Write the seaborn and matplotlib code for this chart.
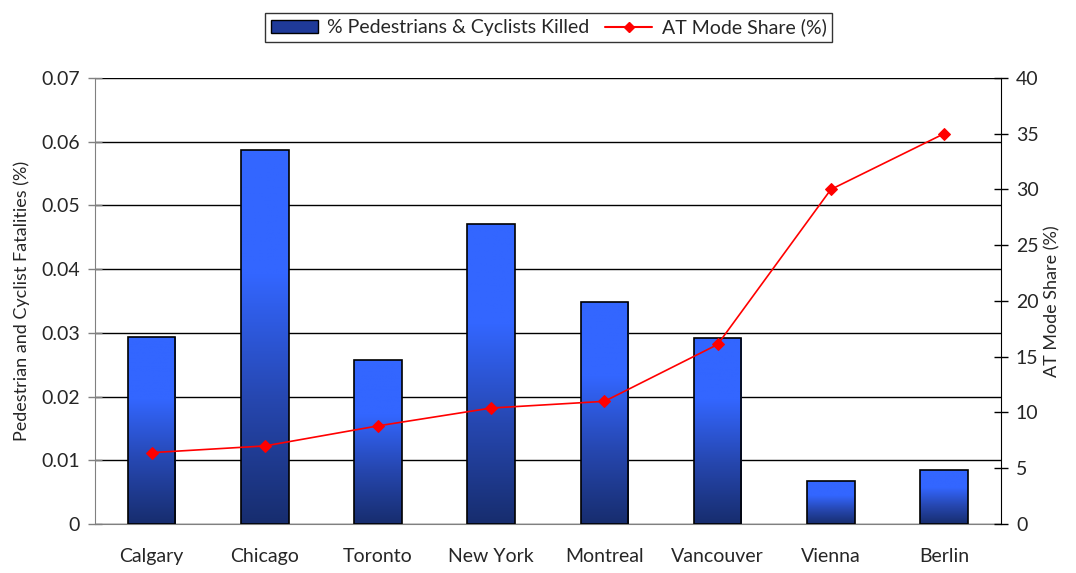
import numpy as np
import pandas as pd
import matplotlib
matplotlib.use('Agg')
import matplotlib.pyplot as plt
import seaborn as sns
from matplotlib.colors import LinearSegmentedColormap
from matplotlib.lines import Line2D
from matplotlib.patches import Patch

cities = ['Calgary', 'Chicago', 'Toronto', 'New York', 'Montreal', 'Vancouver', 'Vienna', 'Berlin']
killed = [0.0294, 0.0587, 0.0257, 0.0471, 0.0348, 0.0292, 0.0067, 0.0085]
mode_share = [6.4, 7.0, 8.8, 10.4, 11.0, 16.1, 30.0, 35.0]

sns.set_style('white')
plt.rcParams['font.family'] = ['Lato', 'DejaVu Sans']

df = pd.DataFrame({'city': cities, 'killed': killed, 'share': mode_share})

fig, ax = plt.subplots(figsize=(10.76, 5.73), dpi=100)
fig.subplots_adjust(left=0.0883, right=0.930, top=0.864, bottom=0.0855)

sns.barplot(data=df, x='city', y='killed', ax=ax, width=0.42, color='#3366ff',
            edgecolor='black', linewidth=1.2, zorder=3)

# gradient fill for every bar
cmap = LinearSegmentedColormap.from_list('bar', ['#172d6e', '#2647b0', '#3366ff', '#3366ff'])
grad = np.linspace(0, 1, 256).reshape(-1, 1)
for p in ax.patches:
    x0, y0 = p.get_x(), p.get_y()
    w, h = p.get_width(), p.get_height()
    im = ax.imshow(grad, cmap=cmap, origin='lower', aspect='auto',
                   extent=(x0, x0 + w, y0, y0 + h), zorder=3.5)
    im.set_clip_path(p)
    p.set_facecolor('none')
    p.set_zorder(4)
ax.set_aspect('auto')
ax.set_xlim(-0.5, len(cities) - 0.5)
ax.set_ylim(0, 0.07)

ax.set_yticks(np.arange(0, 0.071, 0.01))
ax.set_yticklabels(['0'] + [f'{v:.2f}' for v in np.arange(0.01, 0.071, 0.01)], fontsize=14)
ax.yaxis.grid(True, color='black', linewidth=1.0, zorder=0)
ax.set_axisbelow(True)
ax.tick_params(axis='y', direction='inout', length=10, width=1, color='#808080', pad=6)

ax.set_xticks(range(len(cities)))
ax.set_xticklabels(cities, fontsize=14)
ax.set_xticks(np.arange(-0.5, len(cities)), minor=True)
ax.tick_params(axis='x', which='major', length=0, pad=17)
ax.tick_params(axis='x', which='minor', direction='out', length=8, width=1, color='black')
ax.set_xlabel('')
ax.set_ylabel('Pedestrian and Cyclist Fatalities (%)', fontsize=13, labelpad=8)

ax.spines['top'].set_visible(False)
ax.spines['right'].set_visible(False)
ax.spines['left'].set_color('#808080')
ax.spines['bottom'].set_color('#808080')

ax2 = ax.twinx()
sns.lineplot(x=range(len(cities)), y=mode_share, ax=ax2, color='red', linewidth=1.2,
             marker='D', markersize=6, markeredgecolor='red', zorder=5)
ax2.set_ylim(0, 40)
ax2.set_yticks(range(0, 41, 5))
ax2.set_yticklabels([str(v) for v in range(0, 41, 5)], fontsize=14)
ax2.tick_params(axis='y', direction='inout', length=10, width=1, color='black', pad=6)
ax2.set_ylabel('AT Mode Share (%)', fontsize=13)
for s in ['top', 'left', 'bottom']:
    ax2.spines[s].set_visible(False)
ax2.spines['right'].set_color('black')

handles = [Patch(facecolor='#1f3a99', edgecolor='black', label='% Pedestrians & Cyclists Killed'),
           Line2D([0], [0], color='red', marker='D', markersize=5, label='AT Mode Share (%)')]
leg = fig.legend(handles=handles, loc='upper center', bbox_to_anchor=(0.51, 0.995), ncol=2,
                 fontsize=14, frameon=True, fancybox=False, edgecolor='black',
                 handlelength=2.4, columnspacing=0.8, handletextpad=0.5, borderpad=0.3)
leg.get_frame().set_linewidth(1.0)

fig.savefig('out.png', dpi=100)
